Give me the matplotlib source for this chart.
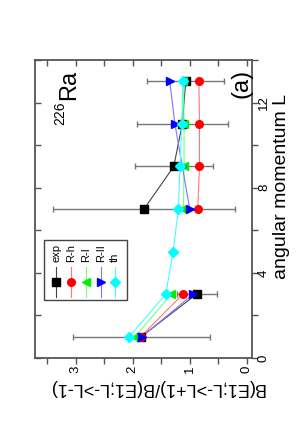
import numpy as np
import matplotlib
matplotlib.use('Agg')
import matplotlib.pyplot as plt
from matplotlib.patches import Rectangle

plt.rcParams['font.family'] = ['Liberation Sans', 'DejaVu Sans']

# angular momentum L and ratio B(E1;L->L+1)/B(E1;L->L-1)
L = np.array([1, 3, 5, 7, 9, 11, 13])
exp_val = np.array([1.85, 0.88, np.nan, 1.80, 1.28, 1.13, 1.07])
exp_err = np.array([1.20, 0.35, np.nan, 1.60, 0.68, 0.80, 0.67])
r_h = np.array([1.86, 1.12, np.nan, 0.86, 0.83, 0.83, 0.84])
r_i = np.array([1.96, 1.32, np.nan, 1.11, 1.10, 1.10, 1.11])
r_ii = np.array([1.84, 0.94, np.nan, 1.00, 1.13, 1.26, 1.35])
th = np.array([2.06, 1.42, 1.29, 1.20, 1.17, 1.14, 1.12])

series = [
    ('exp', exp_val, 's', 'black', '#444444'),
    ('R-h', r_h, 'o', 'red', '#ff7777'),
    ('R-I', r_i, '<', '#00ee00', '#77ff77'),
    ('R-II', r_ii, '>', 'blue', '#7777ff'),
    ('th', th, 'D', 'cyan', '#44ffff'),
]

W, H = 303, 436
fig = plt.figure(figsize=(W / 100, H / 100), dpi=100)
ax = fig.add_axes([35 / W, 1 - 358 / H, 217 / W, 298 / H])

# the whole chart is turned by 90 degrees: ratio runs right-to-left, L bottom-to-top
ax.errorbar(exp_val, L, xerr=exp_err, fmt='none', ecolor='#777777',
            elinewidth=1.0, capsize=2.5, capthick=1.0, zorder=2)
for name, vals, mk, col, lcol in series:
    ax.plot(vals, L, color=lcol, lw=0.8, zorder=3)
    ax.plot(vals, L, ls='none', marker=mk, color=col, ms=5.5 if mk != 'D' else 5,
            mec=col, zorder=4)

ax.set_xlim(3.71, -0.09)
ax.set_ylim(0, 14)

gray = '#555555'
for s in ax.spines.values():
    s.set_color(gray)
    s.set_linewidth(1.3)

ax.set_xticks([0, 1, 2, 3])
ax.set_xticks([0.5, 1.5, 2.5, 3.5], minor=True)
ax.set_yticks([0, 4, 8, 12])
ax.set_yticks([2, 6, 10, 14], minor=True)
ax.xaxis.tick_bottom()
ax.yaxis.tick_right()
ax.tick_params(which='both', direction='out', length=4, width=1.0, color=gray,
               labelsize=9.5)
ax.tick_params(axis='x', which='both', pad=1.5, labelrotation=90)
ax.tick_params(axis='y', which='both', pad=0.3, labelrotation=90)
for t in ax.get_yticklabels():
    t.set_va('center')

# mirror ticks, pointing inward
top = ax.secondary_xaxis('top')
top.set_xticks([0, 1, 2, 3])
top.set_xticks([0.5, 1.5, 2.5, 3.5], minor=True)
top.tick_params(which='both', direction='in', length=4, width=1.0, color=gray,
                labeltop=False)
top.spines['top'].set_visible(False)
left = ax.secondary_yaxis('left')
left.set_yticks([0, 4, 8, 12])
left.set_yticks([2, 6, 10, 14], minor=True)
left.tick_params(which='both', direction='in', length=4, width=1.0, color=gray,
                 labelleft=False)
left.spines['left'].set_visible(False)

# axis titles
fig.text(282 / W, 1 - 186.5 / H, 'angular momentum L', rotation=90,
         ha='center', va='center', fontsize=14)
fig.text(156.5 / W, 1 - 387.5 / H, 'B(E1;L->L+1)/B(E1;L->L-1)', rotation=180,
         ha='center', va='center', fontsize=13)

# annotations
fig.text(69 / W, 1 - 85 / H, 'Ra', rotation=90, ha='center', va='center', fontsize=17)
fig.text(60 / W, 1 - 113.5 / H, '226', rotation=90, ha='center', va='center', fontsize=10)
fig.text(241 / W, 1 - 83 / H, '(a)', rotation=90, ha='center', va='center', fontsize=17)

# legend, drawn turned like the rest
def ax_xy(px, py):
    return (px - 35) / 217, (358 - py) / 298

x0, y0 = ax_xy(44, 300)
x1, y1 = ax_xy(126.7, 240)
ax.add_patch(Rectangle((x0, y0), x1 - x0, y1 - y0, transform=ax.transAxes,
                       fill=True, fc='white', ec='#444444', lw=1.0, zorder=5))
entry_px = [56, 71, 85.7, 100.7, 115]
for (name, vals, mk, col, lcol), px in zip(series, entry_px):
    ex, ey0 = ax_xy(px, 296.7)
    _, ey1 = ax_xy(px, 266.7)
    _, em = ax_xy(px, 282.3)
    _, et = ax_xy(px, 262)
    ax.plot([ex, ex], [ey0, ey1], color=lcol, lw=0.8, transform=ax.transAxes, zorder=6)
    ax.plot([ex], [em], ls='none', marker=mk, color=col, ms=5.5 if mk != 'D' else 5,
            transform=ax.transAxes, zorder=7)
    ax.text(ex, et, name, rotation=90, ha='center', va='bottom', fontsize=8,
            transform=ax.transAxes, zorder=7)

fig.savefig('out.png', dpi=100)
plt.close(fig)
